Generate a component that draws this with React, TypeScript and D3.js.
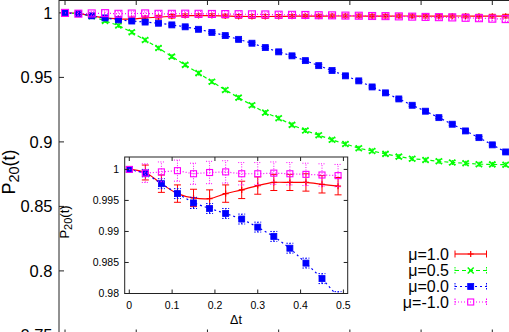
import React from 'react';
import * as d3 from 'd3';

// sampling times (Δt) shared by every series
const dtValues = [
  0, 0.0375, 0.075, 0.1125, 0.15, 0.1875, 0.225, 0.2625, 0.3, 0.3375, 0.375, 0.4125,
  0.45, 0.4875, 0.525, 0.5625, 0.6, 0.6375, 0.675, 0.7125, 0.75, 0.7875, 0.825, 0.8625,
  0.9, 0.9375, 0.975, 1.0125, 1.05, 1.0875, 1.125, 1.1625, 1.2, 1.2375,
];

// P20(t) for each mu
const muPlus1 = [
  1.0, 0.9995, 0.9977, 0.9961, 0.9954, 0.9953, 0.9961, 0.9967, 0.9974, 0.9979, 0.9979, 0.9979,
  0.9976, 0.9973, 0.9972, 0.9972, 0.9973, 0.9974, 0.9975, 0.9975, 0.9976, 0.9976, 0.9976, 0.9975,
  0.9975, 0.9976, 0.9976, 0.9975, 0.9975, 0.9976, 0.9976, 0.9975, 0.9975, 0.9975,
];
const muHalf = [
  1.0, 0.9995, 0.9975, 0.9938, 0.9902, 0.985, 0.979, 0.9728, 0.9661, 0.9597, 0.9533, 0.9467,
  0.9403, 0.9343, 0.9284, 0.9227, 0.9184, 0.9132, 0.9088, 0.9052, 0.9016, 0.8984, 0.8951, 0.893,
  0.8907, 0.8886, 0.887, 0.886, 0.885, 0.884, 0.8835, 0.8827, 0.8826, 0.8823,
];
const muZero = [
  1.0, 0.9994, 0.9977, 0.9961, 0.9946, 0.9937, 0.9929, 0.992, 0.9907, 0.9892, 0.9873, 0.9849,
  0.9824, 0.9795, 0.9765, 0.9731, 0.9698, 0.9667, 0.963, 0.9591, 0.9553, 0.9512, 0.9473, 0.9426,
  0.938, 0.9333, 0.9284, 0.9238, 0.9188, 0.9137, 0.9085, 0.9033, 0.8977, 0.8922,
];
const muMinus1 = [
  1.0, 0.9994, 0.9996, 0.9998, 0.9993, 0.9995, 0.9996, 0.9993, 0.9993, 0.9994, 0.9993, 0.9992,
  0.9991, 0.999, 0.9989, 0.9988, 0.9986, 0.9985, 0.9984, 0.9982, 0.9981, 0.9979, 0.9978, 0.9976,
  0.9975, 0.9973, 0.9971, 0.9969, 0.9967, 0.9965, 0.9962, 0.9959, 0.9955, 0.9952,
];

// error bars (units of 1e-4)
const errPlus1 = [0, 12, 14, 14, 14, 14, 14, 14, 14, 13, 13, 14, 14, 14, 14, 14, 14, 14, 14, 14, 14, 14, 14, 14, 14, 14, 14, 14, 14, 14, 14, 14, 14, 14];
const errHalf = [0, 10, 12, 12, 13, 13, 14, 14, 14, 14, 15, 15, 15, 15, 15, 15, 15, 15, 15, 15, 15, 15, 15, 15, 15, 15, 15, 15, 15, 15, 15, 15, 15, 15];
const errZero = [0, 6, 8, 8, 9, 8, 8, 8, 8, 8, 8, 8, 8, 8, 8, 8, 8, 8, 8, 8, 8, 8, 8, 8, 8, 8, 8, 8, 8, 8, 8, 8, 8, 8];
const errMinus1 = [0, 15, 16, 17, 17, 18, 18, 18, 18, 18, 18, 18, 18, 18, 18, 18, 18, 18, 18, 18, 18, 18, 18, 18, 18, 18, 18, 18, 18, 18, 18, 18, 18, 18];

const legendLabels = ['μ=1.0', 'μ=0.5', 'μ=0.0', 'μ=-1.0'];
const mainYTicks = [0.75, 0.8, 0.85, 0.9, 0.95, 1];
const mainXTicks = [0, 0.2, 0.4, 0.6, 0.8, 1, 1.2];
const insetYTicks = [0.98, 0.985, 0.99, 0.995, 1];
const insetXTicks = [0, 0.1, 0.2, 0.3, 0.4, 0.5];
const insetPoints = 14;

const FONT = 'Liberation Sans, Arial, Helvetica, sans-serif';

const series = [
  { label: legendLabels[0], values: muPlus1, err: errPlus1, color: '#ff0000', dash: undefined, marker: 'plus', inset: true, smooth: true },
  { label: legendLabels[1], values: muHalf, err: errHalf, color: '#00ff00', dash: '4,3', marker: 'cross', inset: false, smooth: false },
  { label: legendLabels[2], values: muZero, err: errZero, color: '#0000ff', dash: '2,3', marker: 'fsquare', inset: true, smooth: false },
  { label: legendLabels[3], values: muMinus1, err: errMinus1, color: '#ff00ff', dash: '1,2', marker: 'osquare', inset: true, smooth: false },
];

const Marker = ({ kind, x, y, color, s }) => {
  if (kind === 'plus')
    return <path d={`M${x - s},${y}H${x + s}M${x},${y - s}V${y + s}`} stroke={color} strokeWidth={1.2} fill="none" />;
  if (kind === 'cross')
    return <path d={`M${x - s},${y - s}L${x + s},${y + s}M${x - s},${y + s}L${x + s},${y - s}`} stroke={color} strokeWidth={1.5} fill="none" />;
  if (kind === 'fsquare')
    return <rect x={x - s} y={y - s} width={2 * s} height={2 * s} fill={color} stroke={color} strokeWidth={0.8} />;
  return <rect x={x - s} y={y - s} width={2 * s} height={2 * s} fill="none" stroke={color} strokeWidth={1.1} />;
};

const ErrorBar = ({ x, y0, y1, color, dash, cap }) => (
  <path
    d={`M${x},${y0}V${y1}M${x - cap},${y0}H${x + cap}M${x - cap},${y1}H${x + cap}`}
    stroke={color}
    strokeWidth={1}
    strokeDasharray={dash === '1,2' ? '1,1.5' : dash ? '1.5,1.5' : undefined}
    fill="none"
  />
);

const App = () => {
  // main plot scales
  const x = d3.scaleLinear().domain([-0.0169, 1.2497]).range([59, 510]);
  const y = d3.scaleLinear().domain([0.75, 1.01]).range([335.4, 0]);

  // inset scales
  const ix = d3.scaleLinear().domain([-0.0107, 0.51]).range([124.7, 347.7]);
  const iy = d3.scaleLinear().domain([0.98, 1.002]).range([293.5, 157]);

  const fmt = (v) => String(+v.toFixed(3));

  const renderSeries = (s, sx, sy, n, ms, prefix) => {
    const pts = s.values.slice(0, n).map((v, i) => ({ t: dtValues[i], v, e: s.err[i] * 1e-4 }));
    const line = d3
      .line()
      .x((d) => sx(d.t))
      .y((d) => sy(d.v))
      .curve(s.smooth ? d3.curveCatmullRom : d3.curveLinear);
    return (
      <g key={prefix + s.label}>
        <path d={line(pts)} fill="none" stroke={s.color} strokeWidth={1.2} strokeDasharray={s.dash} />
        {pts.map((d, i) =>
          d.e > 0 ? (
            <ErrorBar key={'e' + i} x={sx(d.t)} y0={sy(d.v - d.e)} y1={sy(d.v + d.e)} color={s.color} dash={s.dash} cap={3.5} />
          ) : null
        )}
        {pts.map((d, i) => (
          <Marker key={'m' + i} kind={s.marker} x={sx(d.t)} y={sy(d.v)} color={s.color} s={ms} />
        ))}
      </g>
    );
  };

  const legendRows = [254, 270.5, 286.5, 302];

  return (
    <svg width={509} height={332} style={{ position: 'fixed', left: 0, top: 0, background: '#fff' }} fontFamily={FONT}>
      <rect width={509} height={332} fill="#fff" />

      {/* main frame */}
      <g stroke="#222" strokeWidth={1} fill="none">
        <line x1={59} x2={59} y1={0} y2={335.4} />
        <line x1={59} x2={510} y1={0.5} y2={0.5} />
        <line x1={59} x2={510} y1={335.4} y2={335.4} />
        {mainYTicks.map((t) => (
          <line key={'my' + t} x1={59} x2={64} y1={y(t)} y2={y(t)} />
        ))}
        {mainXTicks.map((t) => (
          <g key={'mx' + t}>
            <line x1={x(t)} x2={x(t)} y1={0} y2={5} />
            <line x1={x(t)} x2={x(t)} y1={335.4} y2={329.5} />
          </g>
        ))}
      </g>
      {mainYTicks.map((t) => (
        <text key={'myl' + t} x={52.5} y={y(t)} dy="0.36em" textAnchor="end" fontSize={16.5} fill="#000">
          {fmt(t)}
        </text>
      ))}
      <text transform="translate(15,172) rotate(-90)" textAnchor="middle" fontSize={18} fill="#000">
        P<tspan fontSize={14.5} dy={4}>20</tspan>
        <tspan dy={-4}>(t)</tspan>
      </text>

      {/* main curves */}
      {series.map((s) => renderSeries(s, x, y, dtValues.length, s.marker === 'osquare' ? 3.5 : 3, 'main'))}

      {/* inset */}
      <defs>
        <clipPath id="insetClip">
          <rect x={124.7} y={157} width={223} height={136.5} />
        </clipPath>
      </defs>
      <rect x={124.7} y={157} width={223} height={136.5} fill="#fff" />
      <g clipPath="url(#insetClip)">
        {series.filter((s) => s.inset).map((s) => renderSeries(s, ix, iy, insetPoints, 3, 'inset'))}
      </g>
      <g stroke="#222" strokeWidth={1} fill="none">
        <rect x={124.7} y={157} width={223} height={136.5} />
        {insetYTicks.map((t) => (
          <g key={'iy' + t}>
            <line x1={124.7} x2={128.7} y1={iy(t)} y2={iy(t)} />
            <line x1={347.7} x2={343.7} y1={iy(t)} y2={iy(t)} />
          </g>
        ))}
        {insetXTicks.map((t) => (
          <g key={'ix' + t}>
            <line x1={ix(t)} x2={ix(t)} y1={293.5} y2={289.5} />
            <line x1={ix(t)} x2={ix(t)} y1={157} y2={161} />
          </g>
        ))}
      </g>
      {insetYTicks.map((t) => (
        <text key={'iyl' + t} x={119} y={iy(t)} dy="0.36em" textAnchor="end" fontSize={10.5} fill="#000">
          {fmt(t)}
        </text>
      ))}
      {insetXTicks.map((t) => (
        <text key={'ixl' + t} x={ix(t)} y={309} textAnchor="middle" fontSize={10.5} fill="#000">
          {fmt(t)}
        </text>
      ))}
      <text x={236} y={324} textAnchor="middle" fontSize={12.5} fill="#000">
        Δt
      </text>
      <text transform="translate(68.5,222) rotate(-90)" textAnchor="middle" fontSize={13} fill="#000">
        P<tspan fontSize={11} dy={3}>20</tspan>
        <tspan dy={-3}>(t)</tspan>
      </text>

      {/* legend */}
      {series.map((s, i) => {
        const ly = legendRows[i];
        return (
          <g key={'lg' + s.label}>
            <text x={449} y={ly} dy="0.36em" textAnchor="end" fontSize={16} fill="#000">
              {s.label}
            </text>
            <line x1={455} x2={486.5} y1={ly} y2={ly} stroke={s.color} strokeWidth={1.2} strokeDasharray={s.dash} />
            <path
              d={`M455,${ly - 3.5}V${ly + 3.5}M486.5,${ly - 3.5}V${ly + 3.5}`}
              stroke={s.color}
              strokeWidth={1}
              strokeDasharray={s.dash ? '1.5,1' : undefined}
            />
            <Marker kind={s.marker} x={470.7} y={ly} color={s.color} s={3} />
          </g>
        );
      })}
    </svg>
  );
};

export default App;
